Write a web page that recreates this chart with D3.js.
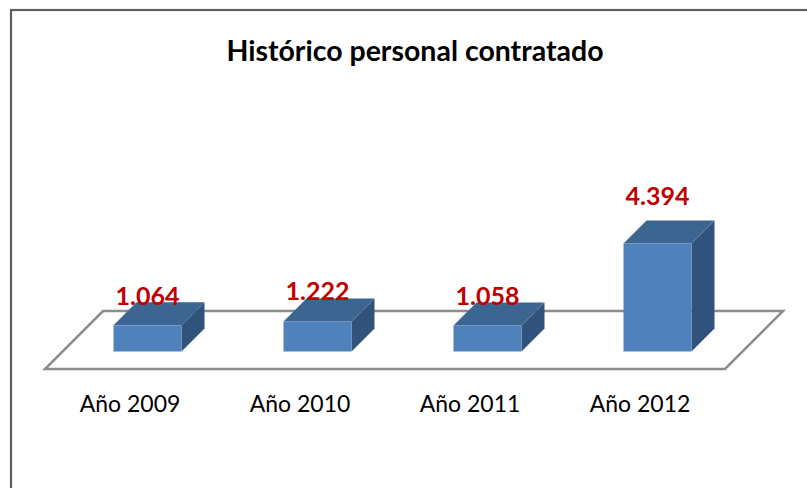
<!DOCTYPE html>
<html>
<head>
<meta charset="UTF-8">
<title>Histórico personal contratado</title>
<script src="https://d3js.org/d3.v7.min.js"></script>
<style>
  html, body { margin: 0; padding: 0; background: #fff; }
  svg { display: block; }
</style>
</head>
<body>
<div id="chart"></div>
<script>
// data
const years = ["Año 2009", "Año 2010", "Año 2011", "Año 2012"];
const personal = [1064, 1222, 1058, 4394];
const valueLabels = ["1.064", "1.222", "1.058", "4.394"];

const W = 807, H = 488;
const svg = d3.select("#chart").append("svg")
  .attr("width", W).attr("height", H);

// chart border (runs off the right and bottom edge)
svg.append("rect")
  .attr("x", 11).attr("y", 10)
  .attr("width", 830).attr("height", 520)
  .attr("fill", "#fff")
  .attr("stroke", "#5f5f5f")
  .attr("stroke-width", 2.2);

svg.append("text")
  .attr("x", 415).attr("y", 61)
  .attr("text-anchor", "middle")
  .style("font-family", "Lato, 'Open Sans', sans-serif")
  .style("font-weight", "bold")
  .style("font-size", "28.5px")
  .attr("fill", "#000")
  .text("Histórico personal contratado");

// floor geometry (front edge + depth)
const floorFront = 369, floorDepth = 58, barDepth = 23;
const x = d3.scaleBand()
  .domain(years)
  .range([45, 725])
  .paddingInner(0.6)
  .paddingOuter(0.3);

// bars sit in the middle of the floor depth
const shift = (floorDepth - barDepth) / 2;
const base = floorFront - shift;

const y = d3.scaleLinear()
  .domain([0, 4394])
  .range([base, base - 108]);

// label anchor follows Excel's placement above the 3d tops
const yLabel = d3.scaleLinear()
  .domain([0, 4394])
  .range([337, 205]);

// floor
const fx0 = x.range()[0], fx1 = x.range()[1];
svg.append("path")
  .attr("d", d3.line()([
    [fx0, floorFront], [fx1, floorFront],
    [fx1 + floorDepth, floorFront - floorDepth],
    [fx0 + floorDepth, floorFront - floorDepth]
  ]) + "Z")
  .attr("fill", "#fff")
  .attr("stroke", "#8c8c8c")
  .attr("stroke-width", 2.5)
  .attr("stroke-linejoin", "miter");

const data = years.map((c, i) => ({ cat: c, v: personal[i], lab: valueLabels[i] }));

const g = svg.append("g").selectAll("g.bar")
  .data(data).join("g").attr("class", "bar");

const bw = x.bandwidth();
const bx = d => x(d.cat) + shift;

// side face
g.append("path")
  .attr("d", d => {
    const x1 = bx(d) + bw, t = y(d.v);
    return d3.line()([[x1, base], [x1, t], [x1 + barDepth, t - barDepth], [x1 + barDepth, base - barDepth]]) + "Z";
  })
  .attr("fill", "#31527b");

// top face
g.append("path")
  .attr("d", d => {
    const x0 = bx(d), t = y(d.v);
    return d3.line()([[x0, t], [x0 + bw, t], [x0 + bw + barDepth, t - barDepth], [x0 + barDepth, t - barDepth]]) + "Z";
  })
  .attr("fill", "#3d6592");

// front face
g.append("rect")
  .attr("x", d => bx(d))
  .attr("y", d => y(d.v))
  .attr("width", bw)
  .attr("height", d => base - y(d.v))
  .attr("fill", "#4f81bd");

// value labels
g.append("text")
  .attr("x", d => bx(d) + bw / 2)
  .attr("y", d => yLabel(d.v))
  .attr("text-anchor", "middle")
  .style("font-family", "Lato, 'Open Sans', sans-serif")
  .style("font-weight", "bold")
  .style("font-size", "25px")
  .attr("fill", "#c00000")
  .text(d => d.lab);

// category labels
svg.append("g").selectAll("text")
  .data(years).join("text")
  .attr("x", d => x(d) + bw / 2)
  .attr("y", 412)
  .attr("text-anchor", "middle")
  .style("font-family", "Lato, 'Open Sans', sans-serif")
  .style("font-size", "23px")
  .attr("fill", "#000")
  .text(d => d);
</script>
</body>
</html>
